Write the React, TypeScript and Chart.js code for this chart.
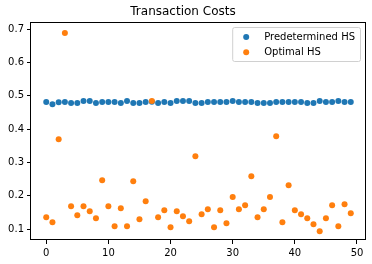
import React, { useEffect, useRef } from "react";
import { Chart, registerables } from "chart.js";

Chart.register(...registerables);

const TITLE = "Transaction Costs";
const SERIES_NAMES = ["Predetermined HS", "Optimal HS"];
const SERIES_COLORS = ["#1f77b4", "#ff7f0e"];

const predetermined = [
  0.481, 0.474, 0.48, 0.481, 0.478, 0.478, 0.484, 0.484, 0.478, 0.481,
  0.481, 0.481, 0.478, 0.484, 0.478, 0.478, 0.481, 0.482, 0.478, 0.481,
  0.478, 0.484, 0.484, 0.484, 0.478, 0.478, 0.481, 0.481, 0.481, 0.481,
  0.484, 0.481, 0.481, 0.481, 0.478, 0.478, 0.478, 0.481, 0.481, 0.481,
  0.481, 0.481, 0.478, 0.478, 0.484, 0.481, 0.481, 0.484, 0.481, 0.481,
];

const optimal = [
  0.135, 0.12, 0.369, 0.688, 0.168, 0.141, 0.168, 0.153, 0.132, 0.246,
  0.168, 0.108, 0.162, 0.108, 0.243, 0.129, 0.183, 0.484, 0.135, 0.156,
  0.105, 0.153, 0.138, 0.123, 0.318, 0.144, 0.159, 0.105, 0.156, 0.117,
  0.196, 0.159, 0.171, 0.258, 0.135, 0.159, 0.196, 0.378, 0.12, 0.231,
  0.156, 0.144, 0.132, 0.114, 0.093, 0.132, 0.171, 0.108, 0.174, 0.147,
];

const xTicks = [0, 10, 20, 30, 40, 50];
const yTicks = [0.1, 0.2, 0.3, 0.4, 0.5, 0.6, 0.7];

const FONT = "'DejaVu Sans', sans-serif";

const framePlugin = {
  id: "frame",
  afterDatasetsDraw(chart: any) {
    const { ctx, chartArea: a } = chart;
    ctx.save();
    ctx.strokeStyle = "#000";
    ctx.lineWidth = 1;
    ctx.strokeRect(a.left - 0.5, a.top - 0.5, a.right - a.left, a.bottom - a.top);
    ctx.restore();
  },
};

const legendPlugin = {
  id: "insideLegend",
  afterDraw(chart: any) {
    const { ctx, chartArea: a } = chart;
    const ds = chart.data.datasets;
    ctx.save();
    ctx.font = `10px ${FONT}`;
    const names = [SERIES_NAMES[0], SERIES_NAMES[1]];
    const textW = Math.max(...names.map((n) => ctx.measureText(n).width));
    const boxRight = a.right - 6;
    const boxLeft = boxRight - 5 - textW - 18 - 14;
    const boxTop = a.top + 4;
    const boxH = 34;
    ctx.beginPath();
    (ctx as any).roundRect(boxLeft + 0.5, boxTop + 0.5, boxRight - boxLeft, boxH, 2);
    ctx.fillStyle = "rgba(255,255,255,0.8)";
    ctx.fill();
    ctx.strokeStyle = "#d0d0d0";
    ctx.lineWidth = 1;
    ctx.stroke();
    names.forEach((n, i) => {
      const cy = boxTop + 10 + i * 15.3;
      const cx = boxLeft + 14;
      ctx.beginPath();
      ctx.arc(cx, cy, 3, 0, Math.PI * 2);
      ctx.fillStyle = ds[i].backgroundColor;
      ctx.fill();
      ctx.fillStyle = "#000";
      ctx.textBaseline = "middle";
      ctx.textAlign = "left";
      ctx.fillText(n, cx + 18, cy);
    });
    ctx.restore();
  },
};

export default function App() {
  const ref = useRef<HTMLCanvasElement | null>(null);

  useEffect(() => {
    document.body.style.margin = "0";
    const canvas = ref.current;
    if (!canvas) return;
    const chart = new Chart(canvas, {
      type: "scatter",
      data: {
        datasets: [
          {
            label: SERIES_NAMES[0],
            data: predetermined.map((v, i) => ({ x: i, y: v })),
            backgroundColor: SERIES_COLORS[0],
            borderWidth: 0,
            pointRadius: 3,
            order: 1,
          },
          {
            label: SERIES_NAMES[1],
            data: optimal.map((v, i) => ({ x: i, y: v })),
            backgroundColor: SERIES_COLORS[1],
            borderWidth: 0,
            pointRadius: 3,
            order: 0,
          },
        ],
      },
      options: {
        animation: false,
        responsive: false,
        devicePixelRatio: 1,
        layout: { padding: { left: 0, right: 6, top: 0, bottom: 0 } },
        plugins: {
          legend: { display: false },
          tooltip: { enabled: false },
          title: {
            display: true,
            text: TITLE,
            color: "#000",
            font: { family: FONT, size: 12, weight: "normal" },
            padding: { top: 5, bottom: 3.6 },
          },
        },
        scales: {
          x: {
            type: "linear",
            min: -2.45,
            max: 51.45,
            afterBuildTicks: (s: any) => {
              s.ticks = xTicks.map((v) => ({ value: v }));
            },
            afterFit: (s: any) => {
              s.height = 24;
            },
            ticks: {
              color: "#000",
              font: { family: FONT, size: 10 },
              padding: 3,
              maxRotation: 0,
              callback: (v: any) => String(v),
            },
            grid: { drawOnChartArea: false, drawTicks: true, tickLength: 4, color: "#000" },
            border: { display: false },
          },
          y: {
            type: "linear",
            min: 0.067,
            max: 0.718,
            afterBuildTicks: (s: any) => {
              s.ticks = yTicks.map((v) => ({ value: v }));
            },
            afterFit: (s: any) => {
              s.width = 31;
            },
            ticks: {
              color: "#000",
              font: { family: FONT, size: 10 },
              padding: 3,
              callback: (v: any) => Number(v).toFixed(1),
            },
            grid: { drawOnChartArea: false, drawTicks: true, tickLength: 4, color: "#000" },
            border: { display: false },
          },
        },
      },
      plugins: [framePlugin, legendPlugin],
    } as any);
    return () => chart.destroy();
  }, []);

  return (
    <div style={{ position: "fixed", left: 0, top: 0, width: 372, height: 264, background: "#fff" }}>
      <canvas ref={ref} width={372} height={264} style={{ width: 372, height: 264, display: "block" }} />
    </div>
  );
}
